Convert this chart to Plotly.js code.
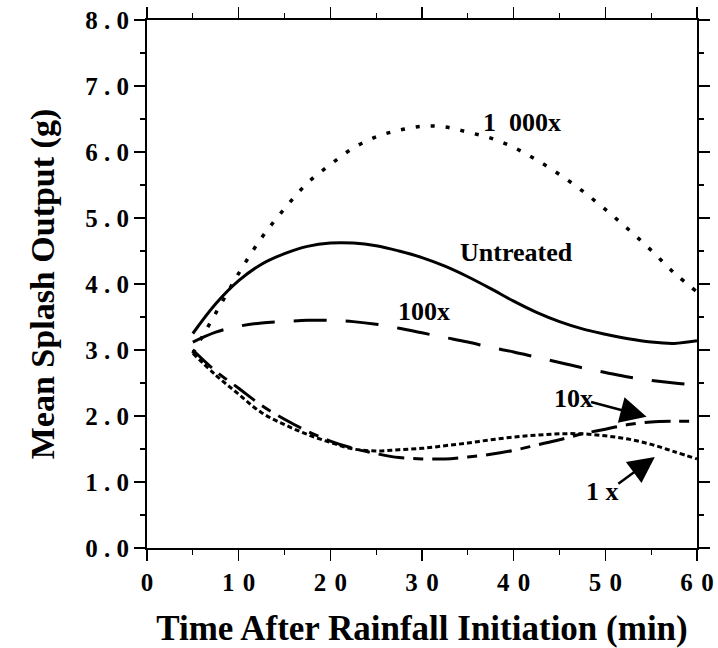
<!DOCTYPE html>
<html>
<head>
<meta charset="utf-8">
<script src="https://cdn.plot.ly/plotly-3.0.1.min.js"></script>
<style>
html,body{margin:0;padding:0;background:#fff;}
#chart{width:718px;height:648px;}
</style>
</head>
<body>
<div id="chart"></div>
<script>
// Time after rainfall initiation (min)
var time = [5, 7.5, 10, 12.5, 15, 17.5, 20, 22.5, 25, 27.5, 30, 32.5, 35, 37.5, 40, 42.5, 45, 47.5, 50, 52.5, 55, 57.5, 60];

// Mean splash output (g) per treatment
var s1000x    = [2.95, 3.56, 4.16, 4.70, 5.14, 5.53, 5.81, 6.06, 6.23, 6.33, 6.39, 6.38, 6.30, 6.21, 6.07, 5.88, 5.66, 5.41, 5.13, 4.83, 4.51, 4.17, 3.88];
var untreated = [3.25, 3.70, 4.05, 4.30, 4.46, 4.57, 4.62, 4.62, 4.58, 4.50, 4.40, 4.27, 4.11, 3.93, 3.74, 3.57, 3.43, 3.32, 3.24, 3.17, 3.12, 3.10, 3.14];
var s100x     = [3.12, 3.27, 3.36, 3.41, 3.43, 3.45, 3.45, 3.43, 3.39, 3.33, 3.26, 3.19, 3.12, 3.04, 2.97, 2.89, 2.81, 2.73, 2.66, 2.59, 2.54, 2.50, 2.47];
var s10x      = [3.00, 2.68, 2.42, 2.16, 1.95, 1.77, 1.62, 1.51, 1.43, 1.37, 1.35, 1.35, 1.38, 1.42, 1.48, 1.56, 1.64, 1.73, 1.80, 1.87, 1.91, 1.92, 1.92];
var s1x       = [2.95, 2.62, 2.33, 2.05, 1.87, 1.72, 1.60, 1.50, 1.47, 1.49, 1.51, 1.55, 1.59, 1.64, 1.68, 1.71, 1.73, 1.73, 1.70, 1.65, 1.57, 1.46, 1.35];

// Tick values and labels
var xTickVals = [0, 10, 20, 30, 40, 50, 60];
var xTickText = ["0", "1\u20040", "2\u20040", "3\u20040", "4\u20040", "5\u20040", "6\u20040"];
var yTickVals = [0, 1, 2, 3, 4, 5, 6, 7, 8];
var yTickText = ["0\u2005.\u20050", "1\u2005.\u20050", "2\u2005.\u20050", "3\u2005.\u20050", "4\u2005.\u20050", "5\u2005.\u20050", "6\u2005.\u20050", "7\u2005.\u20050", "8\u2005.\u20050"];

// Labels
var labelText = ["1\u2002000x", "Untreated", "100x", "10x", "1 x"];
var labelX = [40.9, 40.3, 30.2, 46.5, 49.7];
var labelY = [6.44, 4.47, 3.59, 2.27, 0.85];

var FONT = "Liberation Serif, Times New Roman, serif";

function tr(y, dash, w) {
  return {x: time, y: y, type: "scatter", mode: "lines",
          line: {color: "#000", width: w, dash: dash, shape: "spline", smoothing: 1.0},
          hoverinfo: "skip", showlegend: false};
}

var data = [
  tr(s1000x, "4px,11px", 3.5),
  tr(untreated, "solid", 3),
  tr(s100x, "33px,19px", 3),
  tr(s10x, "26px,9px,10px,9px", 3),
  tr(s1x, "5px,3px", 3)
];

var annotations = [];
for (var i = 0; i < labelText.length; i++) {
  annotations.push({x: labelX[i], y: labelY[i], xref: "x", yref: "y", text: labelText[i],
    showarrow: false, xanchor: "center", yanchor: "middle",
    font: {family: FONT, size: 26, color: "#000", weight: "bold"}});
}
// arrows
annotations.push({x: 54.5, y: 1.99, xref: "x", yref: "y", text: "", showarrow: true,
  ax: -57, ay: -15, arrowhead: 2, arrowsize: 2.1, arrowwidth: 2.5, arrowcolor: "#000", standoff: 0});
annotations.push({x: 55.4, y: 1.38, xref: "x", yref: "y", text: "", showarrow: true,
  ax: -38, ay: 28, arrowhead: 2, arrowsize: 2.1, arrowwidth: 2.5, arrowcolor: "#000", standoff: 0});

var axisCommon = {
  showgrid: false, zeroline: false, showline: true, linecolor: "#000", linewidth: 2,
  mirror: "allticks", ticks: "outside", ticklen: 11, tickwidth: 1.5, tickcolor: "#000",
  tickfont: {family: FONT, size: 25, color: "#000", weight: "bold"},
  tickmode: "array"
};

var layout = {
  width: 718, height: 648,
  margin: {l: 147, r: 21, t: 20, b: 100},
  paper_bgcolor: "#fff", plot_bgcolor: "#fff",
  xaxis: Object.assign({}, axisCommon, {
    range: [0, 60], tickvals: xTickVals, ticktext: xTickText,
    minor: {ticks: "outside", ticklen: 5, tickwidth: 1.2, tickcolor: "#000", dtick: 5, tick0: 0},
    title: {text: "Time After Rainfall Initiation (min)", standoff: 24,
            font: {family: FONT, size: 35, color: "#000", weight: "bold"}}
  }),
  yaxis: Object.assign({}, axisCommon, {
    range: [0, 8], tickvals: yTickVals, ticktext: yTickText,
    minor: {ticks: "outside", ticklen: 5, tickwidth: 1.2, tickcolor: "#000", dtick: 0.5, tick0: 0},
    title: {text: "Mean Splash Output (g)", standoff: 20,
            font: {family: FONT, size: 34, color: "#000", weight: "bold"}}
  }),
  annotations: annotations,
  showlegend: false
};

Plotly.newPlot("chart", data, layout, {staticPlot: true, displayModeBar: false});
</script>
</body>
</html>
